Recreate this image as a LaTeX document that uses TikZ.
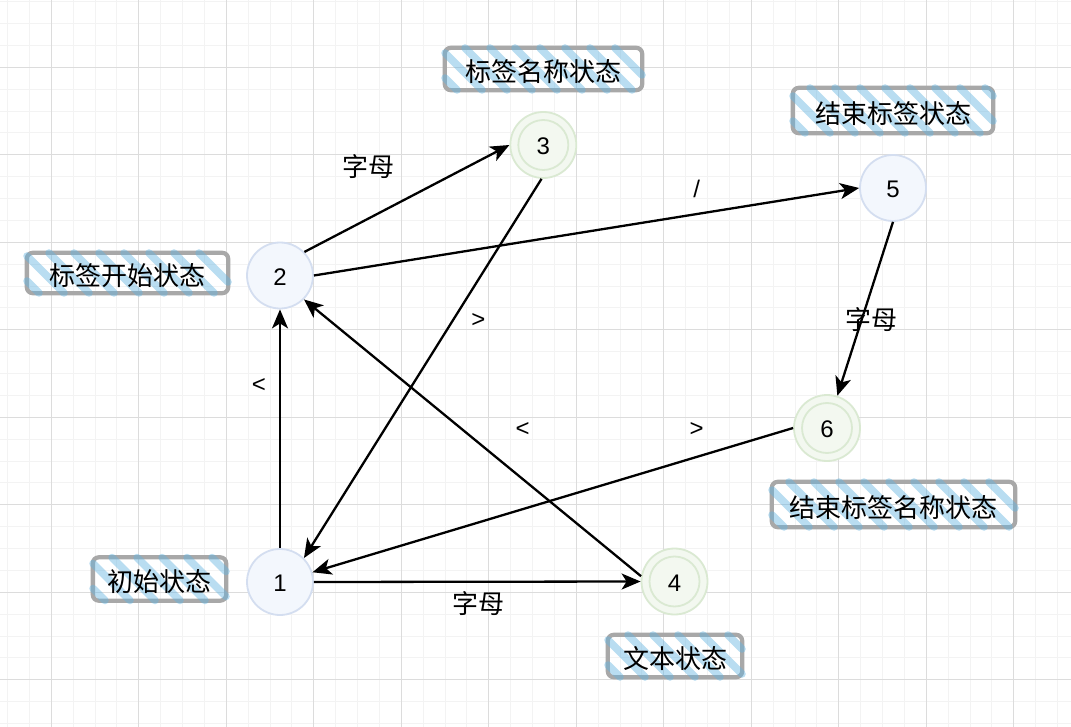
\documentclass[tikz,border=0pt]{standalone}
\usepackage{fontspec}
\setmainfont{Liberation Sans}
\newfontfamily\cjk{Noto Sans CJK SC}
\usetikzlibrary{arrows.meta}
\definecolor{gridminor}{RGB}{243,243,243}
\definecolor{gridmajor}{RGB}{220,220,220}
\definecolor{bfill}{RGB}{243,247,253}
\definecolor{bline}{RGB}{212,222,240}
\definecolor{gfill}{RGB}{243,248,240}
\definecolor{gline}{RGB}{218,233,210}
\definecolor{hatchc}{RGB}{100,180,225}
\definecolor{boxline}{RGB}{168,168,168}
\pgfdeclarelayer{background}
\pgfsetlayers{background,main}
\tikzset{
  stateb/.style={circle, minimum size=66pt, inner sep=0pt, draw=bline, fill=bfill, line width=1.8pt, font=\fontsize{24}{28}\selectfont},
  stateg/.style={stateb, draw=gline, fill=gfill},
  innerring/.style={draw=gline, line width=1.8pt},
  lblbox/.style={rectangle, inner sep=0pt, font=\cjk\fontsize{26}{30}\selectfont},
  boxborder/.style={draw=boxline, line width=4.2pt, rounded corners=6pt},
  hatchline/.style={draw=hatchc, opacity=0.45, line width=7.5pt, line cap=round},
  arr/.style={-{Stealth[length=19pt,width=16pt,inset=5pt]}, line width=2.3pt, black},
  elbl/.style={inner sep=0pt, font=\fontsize{24}{28}\selectfont},
  elblc/.style={inner sep=0pt, font=\cjk\fontsize{26}{30}\selectfont},
  gridmin/.style={draw=gridminor, line width=1pt},
  gridmaj/.style={draw=gridmajor, line width=1.2pt},
}
% #1 node name, #2 cx, #3 cy, #4 w, #5 h, #6 text
\newcommand{\labelbox}[6]{%
  \node[lblbox, minimum width=#4pt, minimum height=#5pt] (#1) at (#2,#3) {};
  \node[lblbox] (#1t) at ([yshift=-3pt]#1.center) {#6};
  \begin{pgfonlayer}{background}
    \draw[boxborder] (#1.north west) rectangle (#1.south east);
    \pgfmathsetmacro{\xa}{#2-#4/2}\pgfmathsetmacro{\xb}{#2+#4/2}
    \pgfmathsetmacro{\ya}{#3-#5/2}\pgfmathsetmacro{\yb}{#3+#5/2}
    \pgfmathsetmacro{\cstart}{\xa-\yb+12}\pgfmathsetmacro{\cnext}{\cstart+25}
    \pgfmathsetmacro{\cend}{\xb-\ya-6}
    \foreach \c in {\cstart,\cnext,...,\cend} {
      \pgfmathsetmacro{\sx}{max(\xa,\c+\ya)}\pgfmathsetmacro{\sy}{\sx-\c}
      \pgfmathsetmacro{\ex}{min(\xb,\c+\yb)}\pgfmathsetmacro{\ey}{\ex-\c}
      \draw[hatchline] (\sx,\sy) -- (\ex,\ey);
    }
  \end{pgfonlayer}}
\begin{document}
\begin{tikzpicture}[x=1pt,y=-1pt]
\useasboundingbox (0,0) rectangle (1071,727);
\begin{pgfonlayer}{background}
  \fill[white] (0,0) rectangle (1071,727);
  \foreach \i in {0,...,48} {\draw[gridmin] ({7.55+21.875*\i},0) -- ++(0,727);}
  \foreach \i in {0,...,33} {\draw[gridmin] (0,{1.7+21.875*\i}) -- ++(1071,0);}
  \foreach \i in {0,...,11} {\draw[gridmaj] ({51.3+87.5*\i},0) -- ++(0,727);}
  \foreach \i in {0,...,7} {\draw[gridmaj] (0,{67.3+87.5*\i}) -- ++(1071,0);}
\end{pgfonlayer}

% label boxes
\labelbox{L3}{543.5}{69}{197}{42}{标签名称状态}
\labelbox{L2}{127.5}{273}{201}{40}{标签开始状态}
\labelbox{L1}{159.5}{579}{133}{43}{初始状态}
\labelbox{L4}{675}{656}{134}{42}{文本状态}
\labelbox{L6}{893.5}{504.5}{243}{45}{结束标签名称状态}
\labelbox{L5}{893}{110.5}{200}{45}{结束标签状态}

% states
\node[stateb] (n1) at (280,582) {};
\node[stateb] (n2) at (280,275.5) {};
\node[stateg] (n3) at (543.3,145) {};
\node[stateg] (n4) at (674.5,581.5) {};
\node[stateb] (n5) at (893,188) {};
\node[stateg] (n6) at (827,428) {};
\draw[innerring] (n3.center) circle[radius=25pt];
\draw[innerring] (n4.center) circle[radius=25pt];
\draw[innerring] (n6.center) circle[radius=25pt];
\node[elbl] (d1) at ([yshift=-1.5pt]n1.center) {1};
\node[elbl] (d2) at ([yshift=-1.5pt]n2.center) {2};
\node[elbl] (d3) at ([yshift=-1.5pt]n3.center) {3};
\node[elbl] (d4) at ([yshift=-1.5pt]n4.center) {4};
\node[elbl] (d5) at ([yshift=-1.5pt]n5.center) {5};
\node[elbl] (d6) at ([yshift=-1.5pt]n6.center) {6};

% transitions
\draw[arr] (n1.north) -- (n2.south);
\draw[arr] (n2.44) -- (n3.west);
\draw[arr] (n3.-93) -- (n1.45);
\draw[arr] (n2.east) -- (n5.west);
\draw[arr] (n5.south) -- (n6);
\draw[arr] (n6.west) -- (n1);
\draw[arr] (n4.171) -- (n2.-45);
\draw[arr] (n1.east) -- (n4.west);

% transition labels
\node[elbl] (t12) at (259,386) {<};
\node[elblc] (t23) at (368,167) {字母};
\node[elbl] (t31) at (478.3,321) {>};
\node[elbl] (t25) at (696.7,189) {/};
\node[elblc] (t56) at (871.7,320) {字母};
\node[elbl] (t42) at (522.7,430) {<};
\node[elbl] (t61) at (696.7,430) {>};
\node[elblc] (t14) at (478,604) {字母};
\end{tikzpicture}
\end{document}
